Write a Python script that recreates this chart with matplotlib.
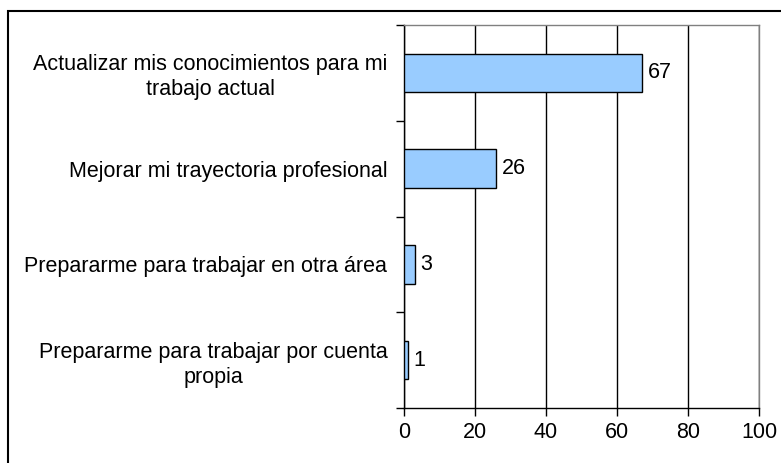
import matplotlib
matplotlib.use("Agg")
import matplotlib.pyplot as plt
from matplotlib.patches import Rectangle
import numpy as np

categories = [
    "Actualizar mis conocimientos para mi\ntrabajo actual",
    "Mejorar mi trayectoria profesional",
    "Prepararme para trabajar en otra área",
    "Prepararme para trabajar por cuenta\npropia",
]
values = [67, 26, 3, 1]
xticks = [0, 20, 40, 60, 80, 100]

plt.rcParams['font.family'] = ['Liberation Sans', 'DejaVu Sans']

W, H = 781, 463
fig = plt.figure(figsize=(W / 100, H / 100), dpi=100)
fig.patch.set_facecolor('white')

# outer frame
fig.add_artist(Rectangle((8 / W, 0 - 0.01), 1.0, 1 - 11 / H + 0.01,
                         transform=fig.transFigure, fill=False,
                         edgecolor='black', lw=1.5))

left, right, top, bottom = 404 / W, 759 / W, 1 - 25 / H, 1 - 408 / H
ax = fig.add_axes([left, bottom, right - left, top - bottom])

y = np.arange(len(categories))
ax.barh(y, values, height=0.4, color='#99CCFF', edgecolor='black', lw=1, zorder=3)

FS = 15.5
ax.set_xlim(0, 100)
ax.set_ylim(len(categories) - 0.5, -0.5)
ax.set_xticks(xticks)
ax.set_xticklabels([str(t) for t in xticks], fontsize=FS)
ax.xaxis.grid(True, color='black', lw=1, zorder=0)
ax.set_axisbelow(True)

ax.set_yticks(y)
ax.set_yticklabels(categories, fontsize=FS, ha='right', multialignment='center',
                   linespacing=1.25)
ax.tick_params(axis='y', which='major', length=0, pad=12)
ax.set_yticks(np.arange(-0.5, len(categories) + 0.5, 1), minor=True)
ax.tick_params(axis='y', which='minor', length=6, width=1, direction='out', color='black')
ax.tick_params(axis='x', length=6, width=1, direction='out', pad=4, color='black')

for v, yy in zip(values, y):
    ax.text(v + 1.6, yy, str(v), va='center', ha='left', fontsize=FS)

for s in ['top', 'right']:
    ax.spines[s].set_color('#808080')
    ax.spines[s].set_linewidth(1)
for s in ['left', 'bottom']:
    ax.spines[s].set_color('black')
    ax.spines[s].set_linewidth(1)

fig.savefig('out.png', dpi=100)
